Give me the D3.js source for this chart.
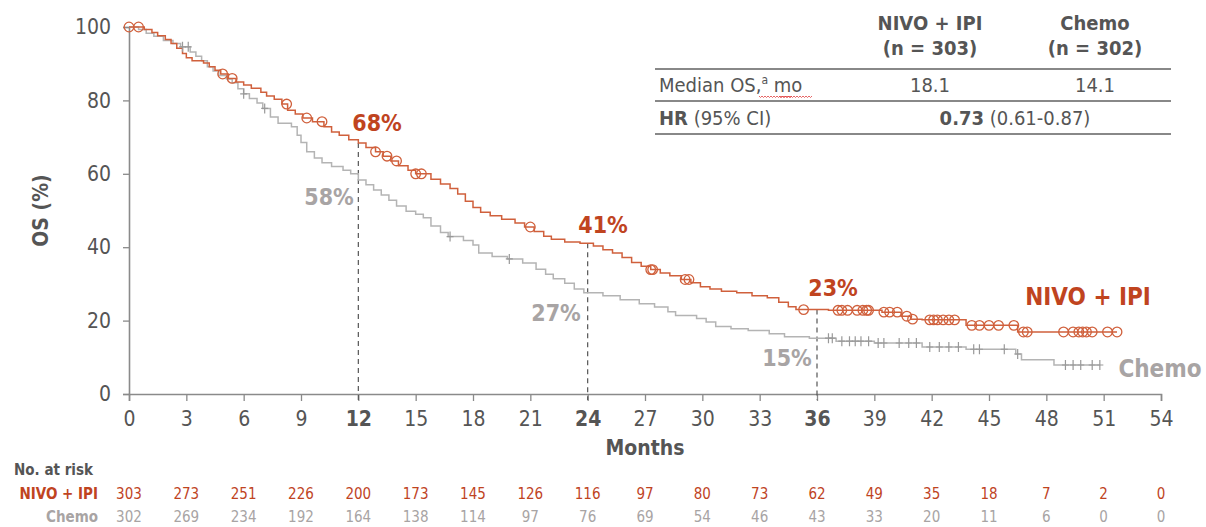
<!DOCTYPE html>
<html><head><meta charset="utf-8">
<script src="https://cdn.jsdelivr.net/npm/d3@7"></script>
<style>
body{margin:0;background:#fff;}
svg text{font-family:"DejaVu Sans Condensed","DejaVu Sans",sans-serif;font-stretch:condensed;}
</style></head>
<body><svg id="c" width="1206" height="527"></svg>
<script>
// ---- data ----
const nivoTimes = [0,0.8,1.2,1.5,1.9,2.2,2.5,2.8,3.0,3.3,3.9,4.2,4.5,4.8,5.2,5.6,6.0,6.4,6.9,7.2,7.6,8.0,8.3,8.7,9.1,9.6,10.2,10.6,11.0,11.5,12.0,12.4,12.9,13.3,13.7,14.1,14.6,15.0,15.8,16.3,16.8,17.2,17.6,18.0,18.4,18.9,19.5,20.2,20.7,21.2,21.7,22.1,22.8,23.6,24.3,24.8,25.3,25.8,26.3,26.8,27.3,27.8,28.3,28.9,29.4,29.9,30.4,31.0,31.8,32.6,33.4,34.0,34.5,34.9,36.6,39.4,40.4,40.9,41.5,43.8,46.5,51.7];
const nivoSurv  = [100,99.3,98.5,97.6,96.6,95.5,94.2,92.8,91.6,90.8,90.2,89.2,88.2,87.2,86.0,85.0,84.2,83.3,82.2,81.2,80.3,79.0,77.3,76.3,75.2,74.2,72.8,71.4,70.5,69.3,68.4,67.2,66.0,64.8,63.5,62.2,61.0,60.0,58.5,57.2,56.0,54.5,52.5,50.8,49.5,48.6,47.6,46.6,45.5,44.3,43.0,42.2,41.4,41.1,40.3,39.3,38.4,37.2,35.8,34.8,33.9,33.0,32.2,31.2,30.3,29.2,28.6,28.0,27.6,26.8,26.2,25.0,23.8,23.0,22.8,22.3,21.2,20.4,20.2,18.7,16.9,16.9];
const nivoCensor = [0,0.5,4.9,5.4,8.25,9.3,10.1,12.9,13.5,14.0,15.0,15.3,21.0,27.3,27.4,29.1,29.3,35.3,37.1,37.3,37.6,38.1,38.4,38.6,38.7,39.5,39.8,40.2,40.7,41.0,41.9,42.1,42.3,42.6,42.9,43.2,44.1,44.5,45.0,45.5,46.3,46.8,47.0,48.9,49.4,49.7,49.9,50.1,50.4,51.2,51.7];

const chemoTimes = [0,0.5,0.9,1.3,1.8,2.3,2.7,3.2,3.5,3.8,4.1,4.4,4.7,5.1,5.4,5.7,6.0,6.3,6.7,7.0,7.4,7.8,8.5,8.8,9.0,9.3,9.7,10.1,10.6,11.2,11.6,12.0,12.4,12.8,13.2,13.6,14.0,14.5,15.0,15.4,15.8,16.3,16.7,17.5,18.0,18.3,19.0,19.8,20.6,21.3,21.8,22.2,22.8,23.3,23.8,24.8,25.7,26.7,27.5,28.2,28.6,29.7,30.2,30.7,31.5,32.4,33.5,34.3,35.6,37.0,39.0,41.5,43.8,46.4,46.7,48.4,50.8];
const chemoSurv  = [100,99.3,98.3,97.5,96.3,95.5,94.6,93.2,92.0,90.8,89.2,88.0,86.8,85.8,84.8,83.2,81.8,80.5,79.3,77.8,75.5,73.8,72.8,70.5,68.5,66.0,64.3,63.0,62.0,61.0,60.0,58.3,57.0,55.6,54.2,52.8,51.2,49.8,49.0,48.0,45.8,44.0,42.9,41.8,40.6,38.4,37.5,36.8,35.7,34.0,32.6,31.4,30.2,28.6,27.6,26.8,25.7,24.6,23.7,22.4,21.4,20.6,19.6,18.4,17.8,17.3,16.4,15.6,15.2,14.4,13.9,12.8,12.2,10.9,9.3,7.9,7.9];
const chemoCensor = [2.8,3.1,6.0,7.1,16.8,19.9,36.6,36.8,37.3,37.7,38.0,38.3,38.7,39.2,39.5,40.3,40.8,41.2,41.9,42.4,42.9,43.4,44.2,44.5,45.8,46.5,49.0,49.4,49.8,50.4,50.8];

const xTicks = [0,3,6,9,12,15,18,21,24,27,30,33,36,39,42,45,48,51,54];
const yTicks = [0,20,40,60,80,100];
const landmarkMonths = [12,24,36];
const nivoLandmarkLabels = ["68%","41%","23%"];
const chemoLandmarkLabels = ["58%","27%","15%"];
const riskTimes = xTicks;
const nivoAtRisk = [303,273,251,226,200,173,145,126,116,97,80,73,62,49,35,18,7,2,0];
const chemoAtRisk = [302,269,234,192,164,138,114,97,76,69,54,46,43,33,20,11,6,0,0];
const tableHeaders = [["NIVO + IPI","(n = 303)"],["Chemo","(n = 302)"]];
const medianOS = ["18.1","14.1"];
const hrText = ["0.73"," (0.61-0.87)"];

// ---- drawing ----
const ORANGE = "#d0603c", ORANGE_T = "#c0441f", GRAY = "#b4b4b4", GRAY_T = "#a8a4a4", AXIS = "#8a8a8a", TXT = "#555";
const svg = d3.select("#c");
const x = d3.scaleLinear().domain([0,54]).range([129,1161]);
const y = d3.scaleLinear().domain([0,100]).range([394,27]);

function stepVal(times, surv, t){ let v = surv[0]; for(let i=0;i<times.length;i++){ if(times[i]<=t) v=surv[i]; } return v; }

// axes
const yAxis = svg.append("g").attr("transform",`translate(${x(0)},0)`)
  .call(d3.axisLeft(y).tickValues(yTicks).tickSize(6).tickPadding(12));
const xAxis = svg.append("g").attr("transform",`translate(0,${y(0)})`)
  .call(d3.axisBottom(x).tickValues(xTicks).tickSize(7).tickPadding(10));
[yAxis,xAxis].forEach(g=>{
  g.select(".domain").attr("stroke",AXIS).attr("stroke-width",1.6);
  g.selectAll(".tick line").attr("stroke",AXIS).attr("stroke-width",1.3);
  g.selectAll(".tick text").attr("fill",TXT).attr("font-size",21);
});
xAxis.selectAll(".tick text").attr("font-weight",d=>landmarkMonths.includes(d)?"bold":"normal");

svg.append("text").attr("x",645).attr("y",455).attr("text-anchor","middle").attr("font-size",21).attr("font-weight","bold").attr("fill",TXT).text("Months");
svg.append("text").attr("transform",`translate(48,${y(50)}) rotate(-90)`).attr("text-anchor","middle").attr("font-size",21).attr("font-weight","bold").attr("fill",TXT).text("OS (%)");

// landmark dashed lines
landmarkMonths.forEach(m=>{
  svg.append("line").attr("x1",x(m)).attr("x2",x(m)).attr("y1",y(stepVal(nivoTimes,nivoSurv,m))).attr("y2",y(0)+6)
    .attr("stroke","#555").attr("stroke-width",1.2).attr("stroke-dasharray","5,4");
});

// curves
const line = d3.line().x(d=>x(d[0])).y(d=>y(d[1])).curve(d3.curveStepAfter);
svg.append("path").datum(chemoTimes.map((t,i)=>[t,chemoSurv[i]])).attr("d",line).attr("fill","none").attr("stroke",GRAY).attr("stroke-width",1.5);
svg.append("path").datum(nivoTimes.map((t,i)=>[t,nivoSurv[i]])).attr("d",line).attr("fill","none").attr("stroke",ORANGE).attr("stroke-width",1.5);

// censor marks
svg.append("g").selectAll("path").data(chemoCensor).join("path")
  .attr("d",t=>{const cx=x(t),cy=y(stepVal(chemoTimes,chemoSurv,t));return `M${cx},${cy-5}V${cy+5}M${cx-3.5},${cy}H${cx+3.5}`;})
  .attr("stroke","#999").attr("stroke-width",1.2).attr("fill","none");
svg.append("g").selectAll("circle").data(nivoCensor).join("circle")
  .attr("cx",t=>x(t)).attr("cy",t=>y(stepVal(nivoTimes,nivoSurv,t))).attr("r",4.8)
  .attr("fill","none").attr("stroke",ORANGE).attr("stroke-width",1.3);

// landmark labels
const nivoLabPos = [[377,131],[603,233],[833,296]];
const chemoLabPos = [[329,205],[556,321],[787,366]];
landmarkMonths.forEach((m,i)=>{
  svg.append("text").attr("x",nivoLabPos[i][0]).attr("y",nivoLabPos[i][1]).attr("text-anchor","middle").attr("font-size",23).attr("font-weight","bold").attr("fill",ORANGE_T).text(nivoLandmarkLabels[i]);
  svg.append("text").attr("x",chemoLabPos[i][0]).attr("y",chemoLabPos[i][1]).attr("text-anchor","middle").attr("font-size",23).attr("font-weight","bold").attr("fill",GRAY_T).text(chemoLandmarkLabels[i]);
});
svg.append("text").attr("x",1088).attr("y",305).attr("text-anchor","middle").attr("font-size",24).attr("font-weight","bold").attr("fill",ORANGE_T).text("NIVO + IPI");
svg.append("text").attr("x",1160).attr("y",377).attr("text-anchor","middle").attr("font-size",24).attr("font-weight","bold").attr("fill",GRAY_T).text("Chemo");

// summary table
const tcol = [930,1095];
tableHeaders.forEach((h,i)=>{
  h.forEach((s,j)=>svg.append("text").attr("x",tcol[i]).attr("y",30+j*25).attr("text-anchor","middle").attr("font-size",20).attr("font-weight","bold").attr("fill",TXT).text(s));
});
[69,101,134].forEach(yy=>svg.append("line").attr("x1",655).attr("x2",1171).attr("y1",yy).attr("y2",yy).attr("stroke","#888").attr("stroke-width",2));
const r1 = svg.append("text").attr("x",659).attr("y",92).attr("font-size",20).attr("fill",TXT);
r1.append("tspan").text("Median OS,");
r1.append("tspan").attr("font-size",12).attr("dy",-8).text("a");
r1.append("tspan").attr("dy",8).text(" mo");
// spell-check squiggles as in reference
function squiggle(x0,x1,yy){let d=`M${x0},${yy}`;for(let xx=x0;xx<x1;xx+=3){d+=`L${xx+1.5},${yy+1.5}L${xx+3},${yy}`;}svg.append("path").attr("d",d).attr("fill","none").attr("stroke","#e04040").attr("stroke-width",0.8);}
squiggle(759,791,96); squiggle(779,811,96);
medianOS.forEach((v,i)=>svg.append("text").attr("x",tcol[i]).attr("y",92).attr("text-anchor","middle").attr("font-size",20).attr("fill",TXT).text(v));
const r2 = svg.append("text").attr("x",659).attr("y",125).attr("font-size",20).attr("fill",TXT);
r2.append("tspan").attr("font-weight","bold").text("HR");
r2.append("tspan").text(" (95% CI)");
const r2b = svg.append("text").attr("x",1015).attr("y",125).attr("text-anchor","middle").attr("font-size",20).attr("fill",TXT);
r2b.append("tspan").attr("font-weight","bold").text(hrText[0]);
r2b.append("tspan").text(hrText[1]);

// risk table
svg.append("text").attr("x",14).attr("y",475).attr("font-size",15).attr("font-weight","bold").attr("fill",TXT).text("No. at risk");
svg.append("text").attr("x",98).attr("y",499).attr("text-anchor","end").attr("font-size",15).attr("font-weight","bold").attr("fill",ORANGE_T).text("NIVO + IPI");
svg.append("text").attr("x",98).attr("y",522).attr("text-anchor","end").attr("font-size",15).attr("font-weight","bold").attr("fill",GRAY_T).text("Chemo");
svg.append("g").selectAll("text").data(nivoAtRisk).join("text").attr("x",(d,i)=>x(riskTimes[i])).attr("y",499).attr("text-anchor","middle").attr("font-size",15).attr("fill",ORANGE_T).text(d=>d);
svg.append("g").selectAll("text").data(chemoAtRisk).join("text").attr("x",(d,i)=>x(riskTimes[i])).attr("y",522).attr("text-anchor","middle").attr("font-size",15).attr("fill",GRAY_T).text(d=>d);
</script></body></html>
